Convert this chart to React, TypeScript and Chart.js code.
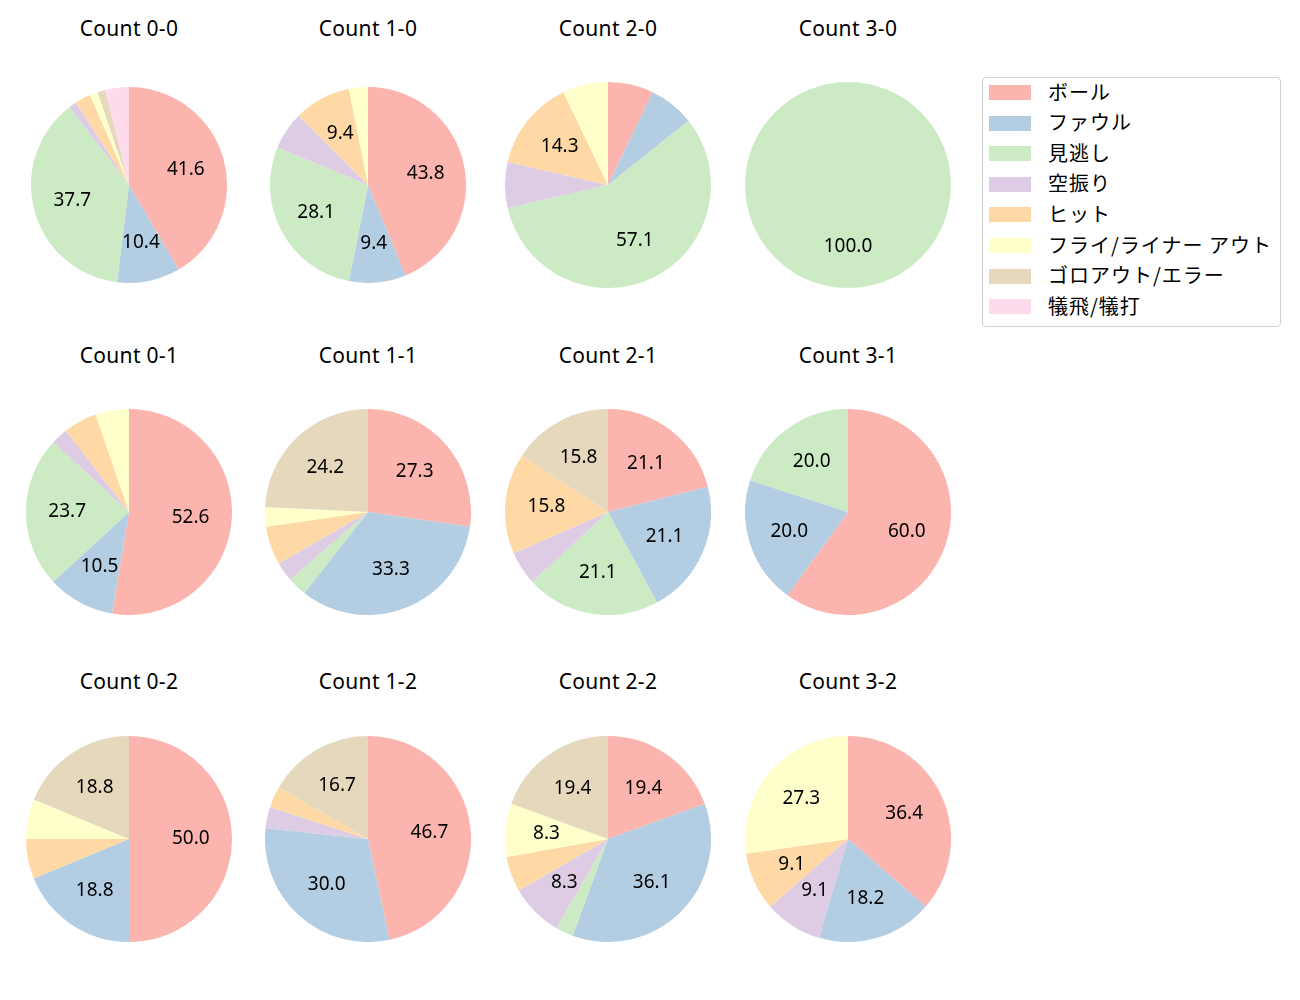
import React, { useEffect, useRef } from "react";
import { Chart, registerables } from "chart.js";

Chart.register(...registerables);

const categories = [
  "ボール",
  "ファウル",
  "見逃し",
  "空振り",
  "ヒット",
  "フライ/ライナー アウト",
  "ゴロアウト/エラー",
  "犠飛/犠打",
];
const colors = ["#fbb4ae", "#b3cde3", "#ccebc5", "#decbe4", "#fed9a6", "#ffffcc", "#e5d8bd", "#fddaec"];

// pitch counts per category (same order as categories)
const count00 = [32, 8, 29, 1, 2, 1, 1, 3];
const count10 = [14, 3, 9, 2, 3, 1, 0, 0];
const count20 = [1, 1, 8, 1, 2, 1, 0, 0];
const count30 = [0, 0, 1, 0, 0, 0, 0, 0];
const count01 = [20, 4, 9, 1, 2, 2, 0, 0];
const count11 = [9, 11, 1, 1, 2, 1, 8, 0];
const count21 = [4, 4, 4, 1, 3, 0, 3, 0];
const count31 = [3, 1, 1, 0, 0, 0, 0, 0];
const count02 = [8, 3, 0, 0, 1, 1, 3, 0];
const count12 = [14, 9, 0, 1, 1, 0, 5, 0];
const count22 = [7, 13, 1, 3, 2, 3, 7, 0];
const count32 = [4, 2, 0, 1, 1, 3, 0, 0];

const titles = [
  "Count 0-0", "Count 1-0", "Count 2-0", "Count 3-0",
  "Count 0-1", "Count 1-1", "Count 2-1", "Count 3-1",
  "Count 0-2", "Count 1-2", "Count 2-2", "Count 3-2",
];
const series = [
  count00, count10, count20, count30,
  count01, count11, count21, count31,
  count02, count12, count22, count32,
];

// layout
const colX = [129, 368, 608, 848];
const rowY = [185, 512, 839];
const titleY = [29, 356, 682];
const radii = [98, 98, 103, 103, 103, 103, 103, 103, 103, 103, 103, 103];

const LATIN = "'Noto Sans', 'Noto Sans CJK JP', sans-serif";
const FONT = "'Noto Sans CJK JP', 'Noto Sans', sans-serif";

const pctLabels = {
  id: "pctLabels",
  afterDatasetsDraw(chart: any) {
    const ctx = chart.ctx;
    const meta = chart.getDatasetMeta(0);
    const data = chart.data.datasets[0].data as number[];
    const total = data.reduce((a: number, b: number) => a + b, 0);
    ctx.save();
    ctx.font = `19px ${LATIN}`;
    ctx.fillStyle = "#000";
    ctx.textAlign = "center";
    ctx.textBaseline = "middle";
    meta.data.forEach((arc: any, i: number) => {
      const pct = (data[i] / total) * 100;
      if (pct < 8) return;
      const p = arc.getProps(["x", "y", "startAngle", "endAngle", "outerRadius"], true);
      const mid = (p.startAngle + p.endAngle) / 2;
      const d = p.outerRadius * 0.6;
      ctx.fillText(pct.toFixed(1), p.x + Math.cos(mid) * d, p.y + Math.sin(mid) * d);
    });
    ctx.restore();
  },
};

function Pie({ idx }: { idx: number }) {
  const ref = useRef<HTMLCanvasElement>(null);
  const r = radii[idx];
  const size = 2 * r;
  const cx = colX[idx % 4];
  const cy = rowY[Math.floor(idx / 4)];
  useEffect(() => {
    if (!ref.current) return;
    const chart = new Chart(ref.current, {
      type: "pie",
      data: {
        labels: categories,
        datasets: [
          {
            data: series[idx],
            backgroundColor: colors,
            borderWidth: 0,
          },
        ],
      },
      options: {
        responsive: false,
        maintainAspectRatio: false,
        animation: false,
        layout: { padding: 0 },
        plugins: {
          legend: { display: false },
          tooltip: { enabled: false },
          title: { display: false },
        },
      },
      plugins: [pctLabels],
    });
    return () => chart.destroy();
  }, [idx]);
  return (
    <>
      <canvas
        ref={ref}
        width={size}
        height={size}
        style={{ position: "absolute", left: cx - r, top: cy - r, width: size, height: size }}
      />
      <div
        style={{
          position: "absolute",
          left: cx - 100,
          width: 200,
          top: titleY[Math.floor(idx / 4)] - 16,
          height: 30,
          lineHeight: "30px",
          textAlign: "center",
          fontFamily: LATIN,
          fontSize: 21,
          letterSpacing: 0.3,
          color: "#000",
          whiteSpace: "nowrap",
        }}
      >
        {titles[idx]}
      </div>
    </>
  );
}

export default function App() {
  return (
    <div
      style={{
        position: "absolute",
        left: 0,
        top: 0,
        width: 1300,
        height: 1000,
        background: "#fff",
        overflow: "hidden",
      }}
    >
      {titles.map((_, i) => (
        <Pie key={i} idx={i} />
      ))}
      <div
        style={{
          position: "absolute",
          left: 982,
          top: 77,
          width: 297,
          height: 248,
          border: "1px solid #d0d0d0",
          borderRadius: 4,
          background: "#fff",
        }}
      />
      {categories.map((c, i) => {
        const y = 92.5 + i * 30.6;
        return (
          <React.Fragment key={c}>
            <div
              style={{
                position: "absolute",
                left: 989,
                top: Math.round(y - 7.5),
                width: 42,
                height: 15,
                background: colors[i],
              }}
            />
            <div
              style={{
                position: "absolute",
                left: 1048,
                top: Math.round(y - 16),
                height: 30,
                lineHeight: "30px",
                fontFamily: FONT,
                fontSize: 20,
                letterSpacing: 1,
                color: "#000",
                whiteSpace: "nowrap",
              }}
            >
              {c}
            </div>
          </React.Fragment>
        );
      })}
    </div>
  );
}
